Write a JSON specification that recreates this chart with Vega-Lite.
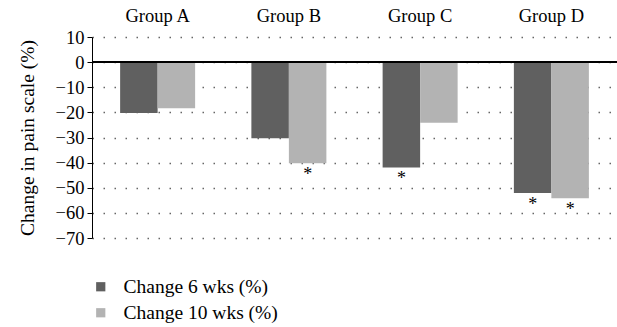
{
  "$schema": "https://vega.github.io/schema/vega-lite/v6.json",
  "width": 525,
  "height": 201,
  "autosize": "none",
  "padding": {"left": 92, "top": 37, "right": 0, "bottom": 89},
  "background": "white",
  "config": {
    "font": "Liberation Serif",
    "view": {"stroke": null},
    "axis": {"labelFont": "Liberation Serif", "titleFont": "Liberation Serif"},
    "axisY": {"labelOverlap": false, "labelBound": false},
    "legend": {"labelFont": "Liberation Serif"},
    "text": {"font": "Liberation Serif"}
  },
  "data": {
    "values": [
      {"group": "Group A", "series": "Change 6 wks (%)", "value": -20.2, "sig": ""},
      {"group": "Group A", "series": "Change 10 wks (%)", "value": -18.4, "sig": ""},
      {"group": "Group B", "series": "Change 6 wks (%)", "value": -30.3, "sig": ""},
      {"group": "Group B", "series": "Change 10 wks (%)", "value": -40.2, "sig": "*"},
      {"group": "Group C", "series": "Change 6 wks (%)", "value": -41.9, "sig": "*"},
      {"group": "Group C", "series": "Change 10 wks (%)", "value": -24.1, "sig": ""},
      {"group": "Group D", "series": "Change 6 wks (%)", "value": -52.1, "sig": "*"},
      {"group": "Group D", "series": "Change 10 wks (%)", "value": -54.2, "sig": "*"}
    ]
  },
  "encoding": {
    "y": {
      "field": "value", "type": "quantitative",
      "scale": {"domain": [-70, 10], "nice": false},
      "axis": {
        "values": [10, 0, -10, -20, -30, -40, -50, -60, -70],
        "labelOverlap": false, "labelBound": false,
        "title": "Change in pain scale (%)", "titleFontSize": 19.5, "titleFontWeight": "normal", "titleColor": "black", "titlePadding": 18,
        "labelFontSize": 18.5, "labelColor": "black", "labelPadding": 3,
        "domainColor": "black", "tickColor": "black", "tickSize": 5,
        "grid": true, "gridDash": [1.5, 9.5], "gridColor": "#666", "gridWidth": 1.3
      }
    }
  },
  "layer": [
    {
      "mark": {"type": "bar"},
      "encoding": {
        "x": {
          "field": "group", "type": "nominal",
          "scale": {"paddingInner": 0, "paddingOuter": 0},
          "axis": {"orient": "top", "title": null, "domain": false, "ticks": false, "labelAngle": 0, "labelFontSize": 18.5, "labelColor": "black", "labelPadding": 12}
        },
        "xOffset": {"field": "series", "type": "nominal", "sort": ["Change 6 wks (%)", "Change 10 wks (%)"], "scale": {"paddingInner": 0, "paddingOuter": 0.75}},
        "color": {
          "field": "series", "type": "nominal", "sort": ["Change 6 wks (%)", "Change 10 wks (%)"],
          "scale": {"range": ["#606060", "#b3b3b3"]},
          "legend": {"orient": "none", "legendX": -1, "legendY": 240, "padding": 0, "title": null, "symbolType": "square", "symbolSize": 85, "symbolStrokeWidth": 0, "labelFontSize": 19.5, "labelColor": "black", "labelOffset": 13, "rowPadding": 5, "direction": "vertical"}
        }
      }
    },
    {
      "transform": [{"filter": "datum.sig != ''"}],
      "mark": {"type": "text", "baseline": "top", "dy": 3, "fontSize": 18, "color": "black"},
      "encoding": {
        "x": {"field": "group", "type": "nominal"},
        "xOffset": {"field": "series", "type": "nominal", "sort": ["Change 6 wks (%)", "Change 10 wks (%)"]},
        "text": {"field": "sig"}
      }
    },
    {
      "mark": {"type": "rule", "color": "black", "strokeWidth": 1.3},
      "encoding": {"y": {"datum": 0}}
    },
    {
      "data": {"values": [{"group": "Group B"}, {"group": "Group C"}, {"group": "Group D"}]},
      "mark": {"type": "rule", "color": "black", "strokeWidth": 1.3},
      "encoding": {
        "x": {"field": "group", "type": "nominal", "bandPosition": 0},
        "y": {"datum": 0},
        "y2": {"datum": -2.4}
      }
    }
  ]
}
